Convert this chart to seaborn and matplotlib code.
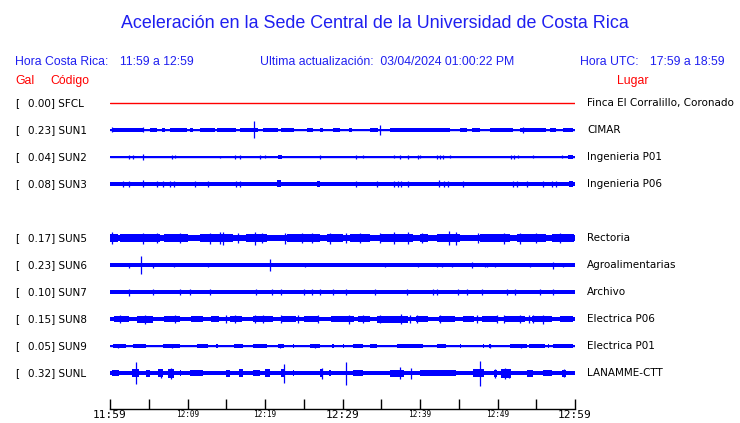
import pandas as pd
import seaborn as sns
import matplotlib.pyplot as plt
from matplotlib.transforms import blended_transform_factory

sns.set_style('white')
plt.rcParams['font.family'] = ['DejaVu Sans']

# --- data --------------------------------------------------------------
codes = ['SFCL', 'SUN1', 'SUN2', 'SUN3', 'SUN5', 'SUN6', 'SUN7', 'SUN8', 'SUN9', 'SUNL']
gals = [0.00, 0.23, 0.04, 0.08, 0.17, 0.23, 0.10, 0.15, 0.05, 0.32]
places = ['Finca El Corralillo, Coronado', 'CIMAR', 'Ingenieria P01', 'Ingenieria P06',
          'Rectoria', 'Agroalimentarias', 'Archivo', 'Electrica P06', 'Electrica P01',
          'LANAMME-CTT']
rows = [0, 1, 2, 3, 5, 6, 7, 8, 9, 10]   # SUN4 slot is empty

# trace half-amplitudes (pixels)
base_amp = [0.0, 0.8, 0.5, 2.1, 3.2, 1.7, 1.6, 2.4, 0.6, 2.1]

# bursts: (start minute, end minute, half amplitude)
bursts = {
    'SUN1': [(0.2, 4.3, 1.7), (5.2, 6.0, 1.7), (6.7, 7.1, 1.7), (7.7, 9.9, 1.6), (10.3, 10.7, 1.7),
             (11.6, 13.5, 1.7), (13.8, 16.3, 1.6), (16.8, 19.1, 1.7), (19.8, 21.7, 1.7),
             (22.1, 23.7, 1.6), (25.4, 26.2, 1.6), (27.1, 27.5, 1.6), (28.8, 29.7, 1.6),
             (30.9, 31.2, 1.6), (33.5, 34.6, 1.7), (36.1, 43.9, 1.6), (45.2, 46.0, 1.6),
             (46.7, 47.7, 1.6), (49.0, 52.0, 1.6), (52.9, 56.3, 1.6), (56.8, 57.6, 1.6),
             (58.5, 59.8, 1.7)],
    'SUN2': [(21.7, 22.2, 2.0), (42.2, 43.9, 0.9), (59.1, 59.7, 2.0)],
    'SUN3': [(21.5, 22.0, 3.5), (26.7, 27.1, 3.2), (59.2, 59.8, 2.8)],
    'SUN5': [(0.0, 1.0, 4.0), (1.3, 6.4, 4.0), (7.0, 10.0, 3.8), (11.6, 15.9, 4.2), (17.6, 20.2, 4.0),
             (22.8, 27.1, 4.0), (28.0, 30.0, 3.8), (31.0, 33.5, 3.8), (34.8, 39.1, 4.2),
             (40.0, 41.0, 3.8), (42.2, 45.2, 4.2), (47.7, 51.6, 4.0), (52.5, 56.3, 4.0),
             (57.0, 59.9, 4.0)],
    'SUN6': [(5.4, 5.8, 2.4)],
    'SUN7': [(0.2, 3.0, 2.3), (9.0, 10.0, 2.1), (25.5, 27.5, 2.1), (44.5, 46.0, 2.1)],
    'SUN8': [(0.5, 2.5, 3.3), (3.5, 5.5, 3.5), (7.0, 9.0, 3.2), (10.5, 12.0, 3.2), (13.0, 14.0, 3.2),
             (15.5, 17.0, 3.4), (18.5, 21.0, 3.3), (22.0, 24.0, 3.2), (25.0, 27.0, 3.3),
             (28.5, 31.5, 3.4), (32.0, 33.5, 3.2), (34.5, 38.5, 3.5), (39.5, 41.0, 3.2),
             (42.5, 44.5, 3.3), (45.5, 47.0, 3.2), (48.0, 50.0, 3.3), (51.0, 53.5, 3.4),
             (54.5, 57.0, 3.4), (58.0, 59.8, 3.3)],
    'SUN9': [(0.4, 2.1, 1.8), (3.0, 4.7, 1.8), (6.9, 9.0, 1.8), (11.2, 12.7, 1.8), (13.7, 13.9, 1.8),
             (16.0, 17.2, 1.8), (18.5, 20.2, 1.8), (21.7, 22.4, 2.0), (23.6, 23.8, 1.7),
             (25.8, 27.1, 1.8), (28.7, 28.9, 1.7), (30.0, 30.2, 1.7), (31.4, 32.7, 1.8),
             (33.5, 34.4, 1.8), (37.0, 40.4, 1.8), (42.2, 43.4, 1.8), (45.1, 45.3, 1.7),
             (48.1, 48.3, 1.7), (48.9, 49.1, 1.7), (51.6, 53.8, 1.8), (54.0, 56.1, 1.8),
             (56.5, 56.7, 1.7), (57.2, 59.8, 1.8)],
    'SUNL': [(0.2, 1.1, 3.0), (2.8, 3.7, 4.0), (4.7, 5.2, 3.5), (6.2, 6.9, 4.0), (7.5, 8.2, 4.5),
             (9.0, 9.2, 3.0), (10.3, 12.0, 3.0), (15.0, 15.5, 3.5), (16.6, 17.2, 4.0),
             (18.5, 19.3, 3.0), (20.0, 20.6, 4.0), (22.1, 22.6, 4.0), (23.6, 23.8, 3.0),
             (27.1, 27.5, 4.0), (28.3, 28.5, 3.0), (31.4, 32.7, 3.0), (36.1, 37.9, 3.5),
             (40.0, 44.7, 2.9), (46.9, 48.2, 4.0), (49.5, 49.9, 3.5), (50.5, 51.8, 4.5),
             (53.8, 54.6, 3.5), (55.9, 57.0, 3.0), (58.3, 58.9, 3.5)],
}

# single spikes: (minute, half amplitude)
spikes = {
    'SUN1': [(0.2, 2.5), (4.3, 2.5), (18.6, 8.5), (34.8, 5.0), (53.3, 3.0)],
    'SUN2': [(2.4, 2.0), (3.0, 2.0), (4.3, 3.0), (8.0, 2.0), (8.4, 1.5), (14.2, 1.2), (16.1, 2.0),
             (16.8, 2.0), (19.3, 2.0), (20.0, 1.5), (27.1, 2.0), (31.8, 2.0), (32.7, 1.5),
             (36.6, 1.5), (37.4, 2.0), (38.5, 2.0), (39.8, 2.0), (40.0, 1.5), (42.2, 2.0),
             (42.6, 2.0), (43.0, 2.0), (43.9, 1.5), (51.8, 2.0), (52.1, 2.0), (52.7, 1.5),
             (54.6, 1.5), (58.3, 1.5)],
    'SUN3': [(1.7, 3.2), (2.4, 3.2), (4.3, 3.5), (6.0, 3.0), (6.9, 3.0), (7.7, 3.2), (8.2, 3.0),
             (11.0, 3.0), (12.7, 3.0), (16.3, 3.2), (16.8, 3.2), (31.8, 3.0), (34.4, 3.0),
             (36.6, 3.0), (37.2, 3.2), (37.6, 3.2), (38.5, 3.2), (42.4, 3.5), (43.1, 3.2),
             (43.6, 3.2), (45.6, 3.0), (52.0, 3.2), (52.5, 3.2), (53.8, 3.0), (55.9, 3.0),
             (57.0, 3.0), (57.6, 3.0)],
    'SUN5': [(0.2, 6.0), (4.3, 5.5), (6.0, 5.0), (9.0, 5.0), (12.9, 5.5), (14.2, 6.0), (14.6, 6.5),
             (16.5, 5.0), (18.7, 6.5), (19.6, 5.0), (22.6, 5.5), (24.8, 5.0), (26.0, 5.0),
             (28.4, 5.5), (30.5, 5.0), (32.2, 5.0), (34.8, 5.0), (36.6, 6.0), (38.5, 6.0),
             (40.2, 5.0), (43.7, 7.0), (44.7, 6.5), (47.5, 5.0), (50.8, 5.5), (52.9, 5.5),
             (55.0, 5.0), (58.0, 5.0)],
    'SUN6': [(2.4, 2.5), (4.0, 9.0), (5.6, 2.5), (8.2, 2.2), (12.7, 2.2), (20.6, 5.7), (25.2, 2.2),
             (35.5, 2.2), (39.8, 2.2), (42.2, 2.4), (42.8, 2.2), (44.1, 2.4), (46.7, 3.0),
             (48.4, 2.4), (48.7, 2.2), (49.7, 2.4), (54.2, 2.2), (57.2, 3.5), (58.5, 2.3)],
    'SUN7': [(2.5, 3.5), (5.6, 2.8), (9.0, 2.6), (10.3, 2.6), (12.9, 3.0), (18.9, 2.6), (20.9, 2.6),
             (22.0, 3.0), (25.0, 2.6), (26.0, 2.8), (27.1, 2.6), (28.8, 2.6), (30.5, 2.6),
             (34.2, 2.8), (38.3, 2.6), (41.7, 2.6), (42.2, 2.6), (44.9, 3.0), (46.0, 2.6),
             (48.0, 2.6), (51.2, 3.0), (52.3, 2.6), (55.5, 2.6), (57.2, 3.0)],
    'SUN8': [(1.3, 4.2), (4.5, 4.5), (8.4, 4.0), (15.0, 4.0), (16.1, 4.2), (18.7, 4.0), (19.8, 4.0),
             (22.0, 4.2), (24.2, 4.0), (26.8, 4.0), (30.8, 4.5), (32.7, 4.0), (34.8, 4.2),
             (37.6, 5.0), (38.7, 4.2), (39.6, 4.0), (42.6, 4.0), (47.3, 4.0), (49.9, 4.2),
             (50.8, 4.2), (52.9, 4.2), (54.0, 4.0), (54.6, 4.2), (55.9, 4.5)],
    'SUN9': [(1.0, 2.2), (8.0, 2.2), (21.9, 2.4), (26.5, 2.0), (49.0, 2.2), (53.0, 2.0)],
    'SUNL': [(3.4, 11.0), (6.6, 4.5), (7.9, 5.5), (22.4, 9.5), (27.3, 5.5), (30.5, 11.5),
             (37.4, 6.0), (38.9, 5.5), (47.7, 12.5), (49.7, 4.5), (51.0, 5.5), (51.5, 4.5),
             (58.6, 4.0)],
}

tick_minutes = list(range(0, 61, 5))
tick_labels = ['11:59', '', '12:09', '', '12:19', '', '12:29', '', '12:39', '', '12:49', '', '12:59']
big_labels = ['11:59', '12:29', '12:59']

title = 'Aceleración en la Sede Central de la Universidad de Costa Rica'
update_text = 'Ultima actualización:  03/04/2024 01:00:22 PM'

# --- figure -----------------------------------------------------------------
W, H = 740, 423
PX_PER_ROW = 27.0
BLUE = '#0000ff'
RED = '#ff0000'
HEAD_BLUE = '#1f1ff0'

fig = plt.figure(figsize=(W / 100, H / 100), dpi=100)
fig.patch.set_facecolor('white')
ax = fig.add_axes([110 / W, 14 / H, 465 / W, 319 / H])

colors = [RED if c == 'SFCL' else BLUE for c in codes]
df_base = pd.DataFrame({
    'minute': [0, 60] * len(codes),
    'row': [r for r in rows for _ in range(2)],
    'station': [c for c in codes for _ in range(2)],
})
sns.lineplot(data=df_base, x='minute', y='row', hue='station', palette=dict(zip(codes, colors)),
             linewidth=1.0, legend=False, ax=ax, estimator=None)

for code, row, b in zip(codes, rows, base_amp):
    if b > 0:
        ax.fill_between([0, 60], row - b / PX_PER_ROW, row + b / PX_PER_ROW, color=BLUE, lw=0)
    for t0, t1, a in bursts.get(code, []):
        ax.fill_between([t0, t1], row - a / PX_PER_ROW, row + a / PX_PER_ROW, color=BLUE, lw=0)
    sp = spikes.get(code, [])
    if sp:
        ts = [s[0] for s in sp]
        amps = [s[1] / PX_PER_ROW for s in sp]
        ax.vlines(ts, [row - a for a in amps], [row + a for a in amps], color=BLUE, lw=0.9)

ax.set_xlim(0, 60)
ax.set_ylim(11.33, -0.48)
ax.set_xlabel('')
ax.set_ylabel('')
ax.set_yticks([])
for s in ['top', 'left', 'right']:
    ax.spines[s].set_visible(False)
ax.spines['bottom'].set_color('black')
ax.spines['bottom'].set_linewidth(1.0)
ax.set_xticks(tick_minutes)
ax.set_xticklabels(tick_labels)
ax.tick_params(axis='x', direction='in', length=7, width=1.0, color='black', pad=0.5,
               bottom=True)
for lab in ax.get_xticklabels():
    lab.set_family('DejaVu Sans Mono')
    lab.set_color('black')
    lab.set_fontsize(8.0 if lab.get_text() in big_labels else 5.6)

# station labels, left and right of the traces
tr = blended_transform_factory(fig.transFigure, ax.transData)
for code, gal, place, row in zip(codes, gals, places, rows):
    ax.text(15 / W, row, '[', transform=tr, fontsize=7.5, va='center', ha='left', color='black')
    ax.text(27.5 / W, row, f'{gal:.2f}] {code}', transform=tr, fontsize=7.5, va='center',
            ha='left', color='black')
    ax.text(587 / W, row, place, transform=tr, fontsize=7.5, va='center', ha='left', color='black')

# header
def ftext(x, y, s, **kw):
    fig.text(x / W, 1 - y / H, s, va='baseline', family='Liberation Sans', **kw)

ftext(375, 28, title, ha='center', fontsize=12.9, color=HEAD_BLUE)
ftext(15, 65, 'Hora Costa Rica:', fontsize=8.8, color=HEAD_BLUE)
ftext(120, 65, '11:59 a 12:59', fontsize=8.8, color=HEAD_BLUE)
ftext(260, 65, update_text, fontsize=8.8, color=HEAD_BLUE)
ftext(580, 65, 'Hora UTC:', fontsize=8.8, color=HEAD_BLUE)
ftext(650, 65, '17:59 a 18:59', fontsize=8.8, color=HEAD_BLUE)
ftext(15, 84, 'Gal', fontsize=8.8, color=RED)
ftext(50, 84, 'Código', fontsize=8.8, color=RED)
ftext(649, 84, 'Lugar', ha='right', fontsize=8.8, color=RED)

fig.savefig('out.png', dpi=100, facecolor='white')
